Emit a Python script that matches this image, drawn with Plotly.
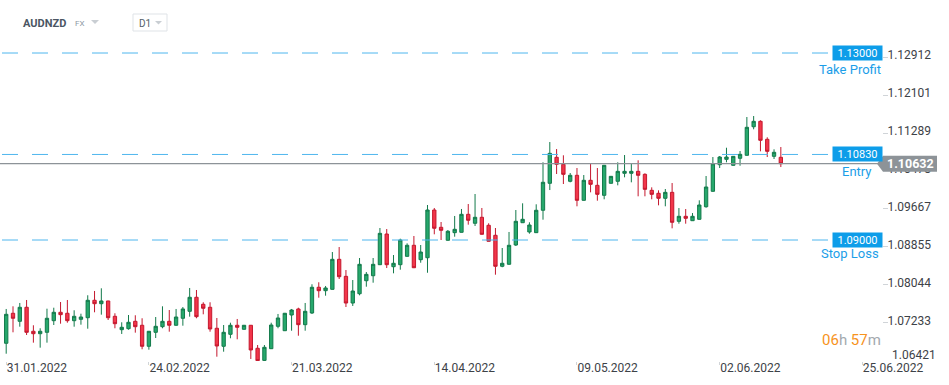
import plotly.graph_objects as go
import pandas as pd

# ---------------- data ----------------
symbol = "AUDNZD"
market = "FX"
interval = "D1"
# daily bars (xStation FX calendar: Sunday..Friday sessions)
dates = pd.bdate_range("2022-01-31", "2022-06-13", freq="C",
                       weekmask="Sun Mon Tue Wed Thu Fri").strftime("%d.%m.%Y").tolist()

opens = [1.06791, 1.07433, 1.07261, 1.07561, 1.07048, 1.06996, 1.07026, 1.07274, 1.07454, 1.07433,
         1.07274, 1.07304, 1.07338, 1.07711, 1.07638, 1.07696, 1.07368, 1.07082, 1.07103, 1.07261,
         1.07176, 1.06727, 1.07026, 1.07146, 1.07261, 1.07176, 1.07326, 1.07475, 1.07775, 1.07625,
         1.07561, 1.07112, 1.06727, 1.06983, 1.07176, 1.07090, 1.07176, 1.06684, 1.06425, 1.06675,
         1.07154, 1.07060, 1.07396, 1.07525, 1.07189, 1.07439, 1.07989, 1.07916, 1.07945, 1.08587,
         1.08223, 1.07652, 1.07851, 1.08129, 1.08236, 1.08472, 1.09128, 1.08429, 1.08472, 1.08651,
         1.08887, 1.08579, 1.08621, 1.09642, 1.09272, 1.08994, 1.09157, 1.09165, 1.09550, 1.09358,
         1.09486, 1.09315, 1.09101, 1.08438, 1.08481, 1.08893, 1.09370, 1.09172, 1.09157, 1.09636,
         1.10213, 1.10769, 1.10619, 1.10256, 1.10384, 1.09849, 1.10277, 1.10170, 1.09956, 1.10213,
         1.10256, 1.10427, 1.10427, 1.10469, 1.10405, 1.10063, 1.09999, 1.09892, 1.10020, 1.09400,
         1.09507, 1.09413, 1.09443, 1.09712, 1.10042, 1.10611, 1.10726, 1.10598, 1.10748, 1.10812,
         1.11423, 1.11539, 1.11154, 1.10790, 1.10769]
highs = [1.07525, 1.07582, 1.07653, 1.07717, 1.07176, 1.07112, 1.07531, 1.07552, 1.07674, 1.07717,
         1.07497, 1.07424, 1.07818, 1.07910, 1.07967, 1.07700, 1.07433, 1.07240, 1.07396, 1.07390,
         1.07326, 1.07054, 1.07353, 1.07582, 1.07503, 1.07525, 1.07567, 1.07974, 1.07931, 1.07668,
         1.07668, 1.07332, 1.07182, 1.07231, 1.07311, 1.07180, 1.07180, 1.06754, 1.06754, 1.07231,
         1.07418, 1.07440, 1.07525, 1.07552, 1.07653, 1.08053, 1.08096, 1.08017, 1.08743, 1.08850,
         1.08358, 1.08144, 1.08615, 1.08315, 1.08615, 1.09257, 1.09235, 1.08679, 1.09028, 1.08929,
         1.09086, 1.08893, 1.09749, 1.09685, 1.09385, 1.09214, 1.09514, 1.09664, 1.09770, 1.09984,
         1.09685, 1.09358, 1.09257, 1.08829, 1.09172, 1.09642, 1.09785, 1.09379, 1.09764, 1.10662,
         1.11096, 1.10946, 1.10812, 1.10433, 1.10540, 1.10390, 1.10626, 1.10540, 1.10605, 1.10368,
         1.10662, 1.10818, 1.10626, 1.10705, 1.10427, 1.10127, 1.10063, 1.10091, 1.10219, 1.09684,
         1.09663, 1.09577, 1.09849, 1.10369, 1.10775, 1.10797, 1.10974, 1.10797, 1.10904, 1.11631,
         1.11652, 1.11560, 1.11197, 1.10940, 1.10989]
lows = [1.06568, 1.07026, 1.07146, 1.06968, 1.06804, 1.06697, 1.06804, 1.07182, 1.07210, 1.07231,
        1.07146, 1.07189, 1.07103, 1.07454, 1.07403, 1.07289, 1.07112, 1.06990, 1.07082, 1.07018,
        1.06663, 1.06654, 1.06904, 1.07112, 1.07039, 1.07167, 1.07167, 1.07360, 1.07326, 1.07411,
        1.07039, 1.06504, 1.06611, 1.06898, 1.06876, 1.07085, 1.06455, 1.06380, 1.06390, 1.06670,
        1.07112, 1.07055, 1.07060, 1.06953, 1.07060, 1.07418, 1.07766, 1.07809, 1.07940, 1.08166,
        1.07567, 1.07589, 1.07817, 1.08001, 1.08087, 1.08465, 1.08401, 1.08288, 1.08365, 1.08645,
        1.08400, 1.08514, 1.08300, 1.09122, 1.09000, 1.08988, 1.09071, 1.09160, 1.09328, 1.09300,
        1.09115, 1.08968, 1.08258, 1.08417, 1.08472, 1.08872, 1.09365, 1.09135, 1.09150, 1.09435,
        1.10069, 1.10412, 1.10198, 1.10234, 1.09721, 1.09845, 1.10020, 1.09841, 1.09871, 1.10210,
        1.10170, 1.10341, 1.10234, 1.09935, 1.09935, 1.09871, 1.09742, 1.09721, 1.09250, 1.09349,
        1.09349, 1.09408, 1.09438, 1.09691, 1.10035, 1.10540, 1.10662, 1.10590, 1.10589, 1.10805,
        1.11368, 1.10897, 1.10775, 1.10733, 1.10561]
closes = [1.07411, 1.07326, 1.07561, 1.07026, 1.06996, 1.07048, 1.07326, 1.07454, 1.07403, 1.07274,
          1.07368, 1.07353, 1.07711, 1.07638, 1.07696, 1.07338, 1.07210, 1.07133, 1.07240, 1.07146,
          1.06727, 1.07048, 1.07154, 1.07261, 1.07176, 1.07353, 1.07525, 1.07775, 1.07360, 1.07540,
          1.07097, 1.06733, 1.07026, 1.07176, 1.07133, 1.07176, 1.06648, 1.06420, 1.06705, 1.07182,
          1.07332, 1.07433, 1.07503, 1.07189, 1.07475, 1.07989, 1.07916, 1.07974, 1.08587, 1.08215,
          1.07652, 1.07909, 1.08480, 1.08266, 1.08480, 1.09143, 1.08472, 1.08502, 1.09000, 1.08887,
          1.08407, 1.08743, 1.09642, 1.09251, 1.09208, 1.09187, 1.09229, 1.09550, 1.09422, 1.09486,
          1.09122, 1.08973, 1.08438, 1.08502, 1.08887, 1.09400, 1.09443, 1.09321, 1.09636, 1.10235,
          1.10854, 1.10619, 1.10405, 1.10384, 1.09849, 1.10277, 1.10191, 1.09977, 1.10598, 1.10362,
          1.10469, 1.10469, 1.10469, 1.10384, 1.10084, 1.09977, 1.09892, 1.10020, 1.09379, 1.09507,
          1.09464, 1.09507, 1.09749, 1.10134, 1.10632, 1.10775, 1.10775, 1.10790, 1.10833, 1.11411,
          1.11539, 1.11133, 1.10897, 1.10876, 1.10632]

tick_labels = ["31.01.2022", "24.02.2022", "21.03.2022", "14.04.2022",
               "09.05.2022", "02.06.2022", "25.06.2022"]
bars_per_label = 21
y_ticks = [1.12912, 1.12101, 1.11289, 1.10478, 1.09667, 1.08855, 1.08044, 1.07233, 1.06421]

level_names = ["Take Profit", "Entry", "Stop Loss"]
level_values = [1.13000, 1.10830, 1.09000]
last_price = 1.10632
countdown_h, countdown_m = "06", "57"

assert len(dates) == len(opens) == len(highs) == len(lows) == len(closes)

# ---------------- layout geometry ----------------
W, H = 949, 385
PR, PB = 882, 361          # plot right edge / bottom edge in px


def px(x):
    return x / PR


def py(y):
    return 1 - y / PB


FONT = "Roboto, 'Open Sans', sans-serif"
BLUE = "#0d9de9"
LINE_BLUE = "#4fb6ee"
GREY = "#8d9398"
TICK_COLOR = "#3d4247"

x_idx = list(range(len(dates)))

fig = go.Figure(go.Candlestick(
    x=x_idx, open=opens, high=highs, low=lows, close=closes, text=dates,
    increasing=dict(line=dict(color="#137a4b", width=1), fillcolor="#26a86c"),
    decreasing=dict(line=dict(color="#c4182e", width=1), fillcolor="#f2364a"),
    hoverinfo="skip", showlegend=False,
))

shapes = []
annotations = []
lvl_shift = [-16, -17.5, -13]
lvl_label_x = [850, 857, 850]
for name, val, sh, lx in zip(level_names, level_values, lvl_shift, lvl_label_x):
    shapes.append(dict(type="line", xref="paper", yref="y", x0=px(2), x1=px(828),
                       y0=val, y1=val, line=dict(color=LINE_BLUE, width=1, dash="16px,14px"),
                       layer="above"))
    annotations.append(dict(xref="paper", yref="y", x=px(857.5), y=val, text=f"{val:.5f}",
                            showarrow=False, xanchor="center", yanchor="middle",
                            bgcolor=BLUE, width=47, height=12, borderpad=1,
                            font=dict(family=FONT, size=11, color="white")))
    annotations.append(dict(xref="paper", yref="y", x=px(lx), y=val, yshift=sh, text=name,
                            showarrow=False, xanchor="center", yanchor="middle",
                            font=dict(family=FONT, size=13, color="#1b9ee8")))

# current price line + grey tag
shapes.append(dict(type="line", xref="paper", yref="y", x0=0, x1=1, y0=last_price, y1=last_price,
                   line=dict(color=GREY, width=1.3), layer="above"))
shapes.append(dict(type="path", xref="paper", yref="y", xsizemode="pixel", ysizemode="pixel",
                   xanchor=1, yanchor=last_price,
                   path="M -5,0 L 1,8 L 55,8 L 55,-8 L 1,-8 Z",
                   fillcolor=GREY, line=dict(width=0), layer="above"))
annotations.append(dict(xref="paper", yref="y", x=px(910), y=last_price, text=f"<b>{last_price:.5f}</b>",
                        showarrow=False, xanchor="center", yanchor="middle",
                        font=dict(family=FONT, size=12.5, color="white")))

# lowest price scale label sits clamped above the time axis (no tick dash)
annotations.append(dict(xref="paper", yref="y", x=1, xshift=8, y=y_ticks[-1], yshift=6,
                        text=f"{y_ticks[-1]:.5f}", showarrow=False,
                        xanchor="left", yanchor="middle",
                        font=dict(family=FONT, size=12, color=TICK_COLOR)))

# header
annotations.append(dict(xref="paper", yref="paper", x=px(21), y=py(23), text=f"<b>{symbol}</b>",
                        showarrow=False, xanchor="left", yanchor="middle",
                        font=dict(family=FONT, size=11, color="#4b5663")))
annotations.append(dict(xref="paper", yref="paper", x=px(73), y=py(23), text=market,
                        showarrow=False, xanchor="left", yanchor="middle",
                        font=dict(family=FONT, size=8, color="#8d99a4")))
shapes.append(dict(type="path", xref="paper", yref="paper",
                   path=f"M {px(91)},{py(20)} L {px(99)},{py(20)} L {px(95)},{py(24)} Z",
                   fillcolor="#c9ced3", line=dict(width=0)))
shapes.append(dict(type="rect", xref="paper", yref="paper", x0=px(133), x1=px(167),
                   y0=py(14), y1=py(31), line=dict(color="#dfe3e7", width=1), fillcolor="white"))
annotations.append(dict(xref="paper", yref="paper", x=px(137), y=py(23), text=interval,
                        showarrow=False, xanchor="left", yanchor="middle",
                        font=dict(family=FONT, size=10, color="#555f69")))
shapes.append(dict(type="path", xref="paper", yref="paper",
                   path=f"M {px(155)},{py(21)} L {px(162)},{py(21)} L {px(158.5)},{py(24.5)} Z",
                   fillcolor="#c9ced3", line=dict(width=0)))

# countdown
annotations.append(dict(xref="paper", yref="paper", x=px(883), y=py(340),
                        text=(f"<span style='color:#f7931d'>{countdown_h}</span>"
                              f"<span style='color:#a3a9ae'>h </span>"
                              f"<span style='color:#f7931d'>{countdown_m}</span>"
                              f"<span style='color:#a3a9ae'>m</span>"),
                        showarrow=False, xanchor="right", yanchor="middle",
                        font=dict(family=FONT, size=15)))

spacing = 6.795
x0_px = 6.2
fig.update_layout(
    width=W, height=H,
    margin=dict(l=0, r=W - PR, t=0, b=H - PB),
    paper_bgcolor="white", plot_bgcolor="white",
    showlegend=False,
    shapes=shapes, annotations=annotations,
    xaxis=dict(
        range=[-x0_px / spacing, (PR - x0_px) / spacing],
        tickvals=[i * bars_per_label for i in range(len(tick_labels))],
        ticktext=tick_labels,
        ticks="outside", ticklen=3, tickcolor="#d0d4d8",
        ticklabelposition="outside right",
        ticklabelstandoff=-4,
        tickfont=dict(family=FONT, size=12, color=TICK_COLOR),
        showgrid=False, zeroline=False, showline=False,
        rangeslider=dict(visible=False), fixedrange=True,
    ),
    yaxis=dict(
        side="right",
        range=[1.06412, 1.14134],
        tickvals=y_ticks[:-1], ticktext=[f"{v:.5f}" for v in y_ticks[:-1]],
        ticks="outside", ticklen=5, tickcolor="#d0d4d8",
        ticklabelshift=-2, ticklabelstandoff=-3,
        tickfont=dict(family=FONT, size=12, color=TICK_COLOR),
        showgrid=False, zeroline=False, showline=False, fixedrange=True,
    ),
)

fig.write_html("out.html", config={"displayModeBar": False},
               post_script="document.body.style.margin='0';document.body.style.overflow='hidden';")
